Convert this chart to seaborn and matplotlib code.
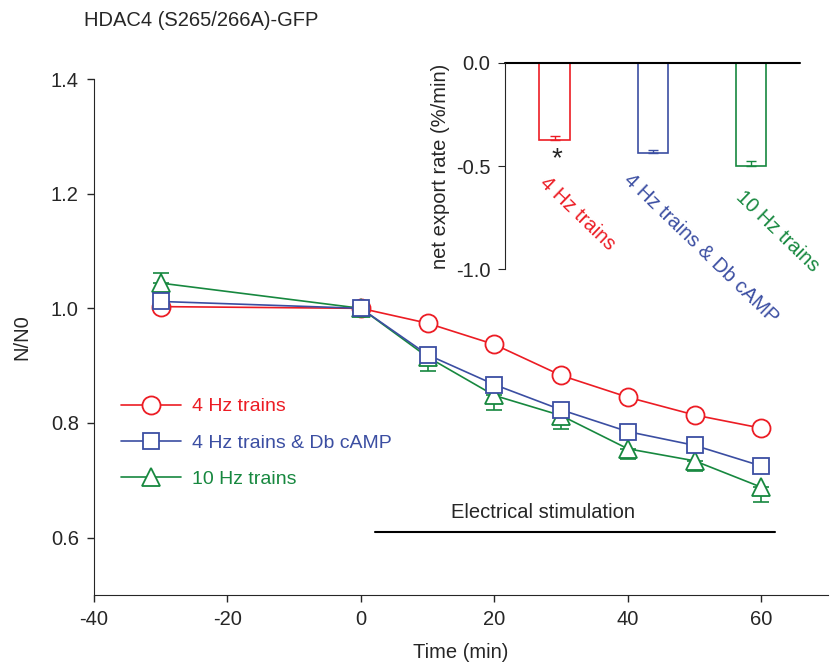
import matplotlib
matplotlib.use("Agg")
import matplotlib.pyplot as plt
from matplotlib.lines import Line2D
import numpy as np
import pandas as pd
import seaborn as sns

# time course (N/N0)
time_min = [-30, 0, 10, 20, 30, 40, 50, 60]
hz4 = [1.003, 1.000, 0.974, 0.937, 0.883, 0.845, 0.814, 0.791]
hz4_err = [0.006, 0.010, 0.006, 0.006, 0.006, 0.006, 0.006, 0.006]
hz4_camp = [1.012, 1.000, 0.919, 0.867, 0.823, 0.785, 0.761, 0.725]
hz4_camp_err = [0.008, 0.004, 0.008, 0.008, 0.008, 0.008, 0.008, 0.008]
hz10 = [1.044, 1.000, 0.915, 0.848, 0.813, 0.755, 0.734, 0.688]
hz10_err = [0.018, 0.004, 0.024, 0.026, 0.023, 0.018, 0.017, 0.025]

series_names = ["4 Hz trains", "4 Hz trains & Db cAMP", "10 Hz trains"]
colors = ["#ec1c24", "#3b4ea2", "#17883f"]
markers = ["o", "s", "^"]

# inset: net export rate
rate = [-0.375, -0.439, -0.500]
rate_err = [0.020, 0.016, 0.026]

sns.set_style("ticks")
plt.rcParams["font.family"] = ["Liberation Sans", "DejaVu Sans"]
plt.rcParams["axes.unicode_minus"] = False
FS = 14.5

fig = plt.figure(figsize=(8.3, 6.63), dpi=100)
ax = fig.add_axes([0.1133, 0.1026, 0.8843, 0.7782])

values = [hz4, hz4_camp, hz10]
errs = [hz4_err, hz4_camp_err, hz10_err]
msizes = [13, 12, 13]
layer = [3, 5, 4]  # blue squares sit on top
for i, name in enumerate(series_names):
    df = pd.DataFrame({"t": time_min, "v": values[i]})
    # one-sided error bars: up at -30 for 10 Hz, otherwise down
    lower = np.array(errs[i])
    upper = np.zeros(len(lower))
    if i == 2:
        upper[0], lower[0] = lower[0], 0
    ax.errorbar(time_min, values[i], yerr=[lower, upper], fmt="none",
                ecolor=colors[i], elinewidth=1.2, capsize=6, capthick=1.2, zorder=2.5)
    sns.lineplot(data=df, x="t", y="v", ax=ax, color=colors[i], lw=1.2,
                 marker=markers[i], markersize=msizes[i], markerfacecolor="white",
                 markeredgecolor=colors[i], markeredgewidth=1.3, zorder=layer[i])

ax.set_xlim(-40, 70)
ax.set_ylim(0.5, 1.4)
ax.set_xticks([-40, -20, 0, 20, 40, 60])
ax.set_yticks([0.6, 0.8, 1.0, 1.2, 1.4])
ax.set_yticklabels(["0.6", "0.8", "1.0", "1.2", "1.4"])
ax.tick_params(labelsize=FS, length=5, width=1, pad=6)
ax.set_xlabel("Time (min)", fontsize=FS, labelpad=10)
ax.set_ylabel("N/N0", fontsize=FS, labelpad=14)
sns.despine(ax=ax)

ax.plot([2.1, 62], [0.609, 0.609], color="black", lw=1.5)
ax.text(27.3, 0.628, "Electrical stimulation", ha="center", va="bottom", fontsize=FS)

handles = [Line2D([0], [0], color=colors[i], lw=1.2, marker=markers[i],
                  markersize=msizes[i], markerfacecolor="white",
                  markeredgecolor=colors[i], markeredgewidth=1.3)
           for i in range(3)]
leg = ax.legend(handles, series_names, loc="upper left", bbox_to_anchor=(0.0364, 0.382),
                frameon=False, fontsize=14, handlelength=3.1, labelspacing=0.95,
                handletextpad=0.55, borderpad=0, borderaxespad=0)
for t, c in zip(leg.get_texts(), colors):
    t.set_color(c)

fig.text(84 / 830, 1 - 20 / 663, "HDAC4 (S265/266A)-GFP", fontsize=FS, va="center")

# inset
ins = fig.add_axes([0.609, 0.5938, 0.355, 0.3116])
bdf = pd.DataFrame({"cond": series_names, "rate": rate})
sns.barplot(data=bdf, x="cond", y="rate", hue="cond", palette=colors, fill=False,
            width=0.31, linewidth=1.2, legend=False, ax=ins, errorbar=None)
for i in range(3):
    ins.errorbar([i], [rate[i]], yerr=[[0], [rate_err[i]]], fmt="none",
                 ecolor=colors[i], elinewidth=1.0, capsize=3.5, capthick=1.0)
ins.set_xlim(-0.5, 2.5)
ins.set_ylim(-1.0, 0.0)
ins.axhline(0, color="black", lw=1.5, clip_on=False)
ins.set_yticks([0.0, -0.5, -1.0])
ins.set_yticklabels(["0.0", "-0.5", "-1.0"])
ins.set_xticks([])
ins.set_xlabel("")
ins.set_ylabel("net export rate (%/min)", fontsize=FS, labelpad=4)
ins.tick_params(axis="y", labelsize=FS, length=5, pad=6)
ins.spines["top"].set_visible(False)
ins.spines["right"].set_visible(False)
ins.spines["bottom"].set_visible(False)
ins.patch.set_alpha(0)
ins.text(0.02, -0.465, "*", ha="center", va="center", fontsize=20)
label_dx = [-0.05, -0.20, -0.06]
label_y = [-0.535, -0.52, -0.605]
for i, name in enumerate(series_names):
    ins.text(i + label_dx[i], label_y[i], name, color=colors[i], rotation=-44,
             rotation_mode="anchor", ha="left", va="top", fontsize=FS)

fig.savefig("out.png", dpi=100)
